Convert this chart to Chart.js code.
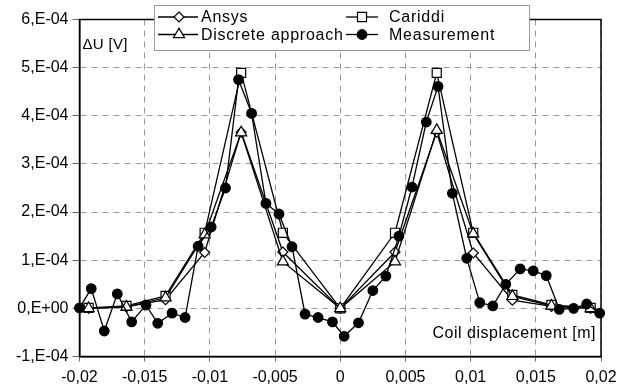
<!DOCTYPE html>
<html><head><meta charset="utf-8">
<script src="https://cdn.jsdelivr.net/npm/chart.js@4"></script>
<style>html,body{margin:0;padding:0;background:#fff}</style>
</head><body>
<canvas id="c" width="628" height="385"></canvas>
<script>
// ---- data ----
const xTickLabels = ['-0,02','-0,015','-0,01','-0,005','0','0,005','0,01','0,015','0,02'];
const yTickLabels = ['-1,E-04','0,E+00','1,E-04','2,E-04','3,E-04','4,E-04','5,E-04','6,E-04'];
const seriesNames = ['Ansys','Cariddi','Discrete approach','Measurement'];

const xSim = [-0.0193, -0.0164, -0.0134, -0.0104, -0.0076, -0.0044, 0, 0.0042, 0.0074, 0.0102, 0.0132, 0.0162, 0.0192];
const ansys    = [0, 0.03e-4, 0.18e-4, 1.16e-4, 3.66e-4, 1.17e-4, 0, 1.17e-4, 3.66e-4, 1.15e-4, 0.17e-4, 0.04e-4, 0];
const cariddi  = [0.01e-4, 0.05e-4, 0.26e-4, 1.57e-4, 4.89e-4, 1.57e-4, 0, 1.57e-4, 4.89e-4, 1.57e-4, 0.28e-4, 0.07e-4, 0.01e-4];
const discrete = [0, 0.03e-4, 0.22e-4, 1.53e-4, 3.65e-4, 0.97e-4, 0, 0.97e-4, 3.70e-4, 1.55e-4, 0.25e-4, 0.05e-4, 0];

const xMeas = [-0.0200, -0.0191, -0.0181, -0.0171, -0.0160, -0.0149, -0.0140, -0.0129, -0.0119, -0.0109,
               -0.0099, -0.0088, -0.0078, -0.0068, -0.0057, -0.0047, -0.0037, -0.0027, -0.0017, -0.0006,
                0.0003,  0.0014,  0.0025,  0.0035,  0.0045,  0.0055,  0.0066,  0.0075,  0.0086,  0.0097,
                0.0107,  0.0117,  0.0127,  0.0138,  0.0148,  0.0158,  0.0168,  0.0179,  0.0189,  0.0199];
const measurement = [0.01e-4, 0.41e-4, -0.47e-4, 0.30e-4, -0.28e-4, 0.07e-4, -0.31e-4, -0.10e-4, -0.19e-4, 1.29e-4,
                     1.69e-4, 2.50e-4, 4.75e-4, 4.05e-4, 2.18e-4, 1.96e-4, 1.28e-4, -0.12e-4, -0.19e-4, -0.28e-4,
                     -0.58e-4, -0.30e-4, 0.37e-4, 0.67e-4, 1.50e-4, 2.52e-4, 3.87e-4, 4.61e-4, 2.39e-4, 1.04e-4,
                     0.12e-4, 0.05e-4, 0.50e-4, 0.82e-4, 0.78e-4, 0.68e-4, -0.02e-4, 0.00e-4, 0.09e-4, -0.10e-4];

const xMin = -0.02, xMax = 0.02, xStep = 0.005;
const yMin = -1e-4, yMax = 6e-4, yStep = 1e-4;

// ---- build ----
function pts(xs, ys){ return xs.map((x,i)=>({x:x, y:ys[i]})); }
const FONT = '"Liberation Sans", Arial, Helvetica, sans-serif';
Chart.defaults.font.family = FONT;
Chart.defaults.font.size = 16;
Chart.defaults.color = '#000';

const styles = [
  {pointStyle:'rectRot', r:5,   fill:'#fff'},
  {pointStyle:'rect',    r:6.4, fill:'#fff'},
  {pointStyle:'triangle',r:6.4, fill:'#fff'},
  {pointStyle:'circle',  r:4.8, fill:'#000'}
];
const seriesData = [pts(xSim, ansys), pts(xSim, cariddi), pts(xSim, discrete), pts(xMeas, measurement)];

const datasets = seriesNames.map((n,i)=>({
  label:n, data:seriesData[i], showLine:true,
  borderColor:'#000', borderWidth:1.3,
  pointStyle:styles[i].pointStyle, pointRadius:styles[i].r, pointHoverRadius:styles[i].r,
  pointBackgroundColor:styles[i].fill, pointBorderColor:'#000', pointBorderWidth:1.2,
  order: 3 - i, clip:false
}));

function drawMarker(ctx, st, x, y){
  const r = st.r;
  ctx.beginPath();
  if (st.pointStyle === 'circle'){ ctx.arc(x, y, r, 0, Math.PI*2); }
  else if (st.pointStyle === 'rect'){ const s = r*Math.SQRT1_2; ctx.rect(x-s, y-s, 2*s, 2*s); }
  else if (st.pointStyle === 'rectRot'){ ctx.moveTo(x, y-r); ctx.lineTo(x+r, y); ctx.lineTo(x, y+r); ctx.lineTo(x-r, y); ctx.closePath(); }
  else if (st.pointStyle === 'triangle'){
    let a = 0; ctx.moveTo(x+Math.sin(a)*r, y-Math.cos(a)*r);
    a += 2*Math.PI/3; ctx.lineTo(x+Math.sin(a)*r, y-Math.cos(a)*r);
    a += 2*Math.PI/3; ctx.lineTo(x+Math.sin(a)*r, y-Math.cos(a)*r); ctx.closePath();
  }
  ctx.fillStyle = st.fill; ctx.fill();
  ctx.lineWidth = 1.2; ctx.strokeStyle = '#000'; ctx.stroke();
}

const framePlugin = {
  id:'frame',
  beforeDatasetsDraw(chart){
    const {ctx, chartArea:a} = chart;
    ctx.save(); ctx.strokeStyle = '#000'; ctx.lineWidth = 1.5;
    ctx.strokeRect(a.left, a.top, a.right - a.left, a.bottom - a.top);
    ctx.restore();
  },
  afterDraw(chart){
    const {ctx, chartArea:a} = chart;
    ctx.save();
    // legend box
    const bx = 154, by = 5, bw = 375, bh = 45;
    ctx.fillStyle = '#fff'; ctx.fillRect(bx, by, bw, bh);
    ctx.strokeStyle = '#999'; ctx.lineWidth = 1; ctx.strokeRect(bx+0.5, by+0.5, bw, bh);
    const items = [
      {i:0, lx:158, mx:179, rx:198, tx:201, y:17},
      {i:1, lx:346, mx:362, rx:378, tx:389, y:17},
      {i:2, lx:158, mx:179, rx:198, tx:201, y:34.5},
      {i:3, lx:346, mx:362, rx:378, tx:389, y:34.5}
    ];
    ctx.font = '16px ' + FONT; ctx.textBaseline = 'middle'; ctx.textAlign = 'left';
    items.forEach(it=>{
      ctx.beginPath(); ctx.moveTo(it.lx, it.y); ctx.lineTo(it.rx, it.y);
      ctx.strokeStyle = '#000'; ctx.lineWidth = 1.3; ctx.stroke();
      drawMarker(ctx, styles[it.i], it.mx, it.y);
      ctx.fillStyle = '#000';
      ctx.letterSpacing = '0.75px';
      ctx.fillText(seriesNames[it.i], it.tx, it.y + 1);
      ctx.letterSpacing = '0px';
    });
    // axis titles inside plot
    ctx.font = '15px ' + FONT; ctx.textAlign = 'left';
    ctx.letterSpacing = '0.3px';
    ctx.fillText('\u0394U [V]', a.left + 3, 45);
    ctx.font = '16px ' + FONT; ctx.textAlign = 'right';
    ctx.letterSpacing = '0.5px';
    ctx.fillText('Coil displacement [m]', a.right - 5, 334);
    ctx.letterSpacing = '0px';
    ctx.restore();
  }
};

new Chart(document.getElementById('c'), {
  type:'scatter',
  data:{datasets},
  options:{
    responsive:false, animation:false, devicePixelRatio:1,
    layout:{padding:{top:19.5, right:27, left:0, bottom:0}},
    plugins:{legend:{display:false}, tooltip:{enabled:false}},
    scales:{
      x:{
        type:'linear', min:xMin, max:xMax,
        afterFit(s){ s.height = 28.5; },
        ticks:{stepSize:xStep, padding:6, maxRotation:0, autoSkip:false,
          callback:(v)=>xTickLabels[Math.round((v - xMin)/xStep)] },
        grid:{color:'#999', lineWidth:1, tickLength:5, tickColor:'#666'},
        border:{display:true, color:'#000', width:1.5, dash:[6,5]}
      },
      y:{
        type:'linear', min:yMin, max:yMax,
        afterFit(s){ s.width = 79.5; },
        ticks:{stepSize:yStep, padding:4, autoSkip:false,
          callback:(v)=>yTickLabels[Math.round((v - yMin)/yStep)] },
        grid:{color:'#999', lineWidth:1, tickLength:7, tickColor:'#666'},
        border:{display:true, color:'#000', width:1.5, dash:[6,5]}
      }
    }
  },
  plugins:[framePlugin]
});
</script>
</body></html>
